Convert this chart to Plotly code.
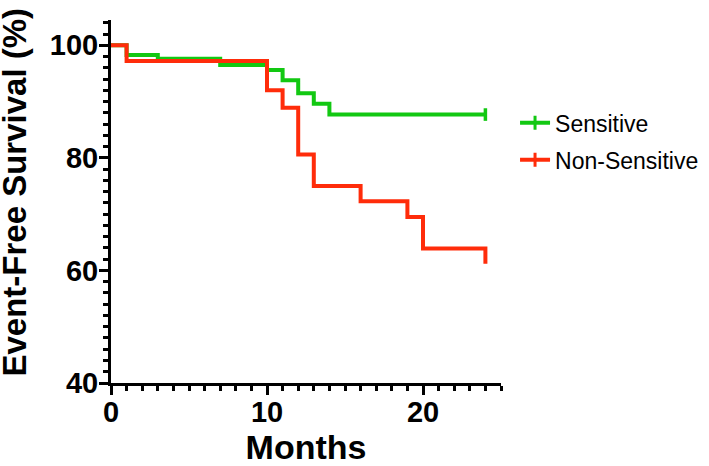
import plotly.graph_objects as go

# Kaplan-Meier step data (months, survival %)
sens_t = [0, 1, 3, 7, 10, 11, 12, 13, 14, 24]
sens_s = [100, 98.3, 97.6, 96.5, 95.6, 93.8, 91.5, 89.6, 87.7, 87.7]
nons_t = [0, 1, 10, 11, 12, 13, 16, 19, 20, 24]
nons_s = [100, 97.2, 92.0, 88.9, 80.6, 75.0, 72.3, 69.5, 63.9, 61.2]
sens_censor_t = [24]
sens_censor_s = [87.7]

GREEN = "#12C812"
RED = "#FF2C0A"
FONT = "Liberation Sans"

fig = go.Figure()

fig.add_trace(go.Scatter(x=sens_t, y=sens_s, mode="lines", line=dict(color=GREEN, width=4, shape="hv"),
                         showlegend=False, hoverinfo="skip"))
fig.add_trace(go.Scatter(x=sens_censor_t, y=sens_censor_s, mode="markers",
                         marker=dict(symbol="line-ns", size=9, line=dict(color=GREEN, width=3.5)),
                         showlegend=False, cliponaxis=False))
fig.add_trace(go.Scatter(x=nons_t, y=nons_s, mode="lines", line=dict(color=RED, width=4, shape="hv"),
                         showlegend=False, hoverinfo="skip"))

# legend entries
fig.add_trace(go.Scatter(x=[None], y=[None], mode="lines+markers", name="Sensitive",
                         line=dict(color=GREEN, width=4),
                         marker=dict(symbol="line-ns", size=10, line=dict(color=GREEN, width=3)),
                         legend="legend"))
fig.add_trace(go.Scatter(x=[None], y=[None], mode="lines+markers", name="Non-Sensitive",
                         line=dict(color=RED, width=4),
                         marker=dict(symbol="line-ns", size=10, line=dict(color=RED, width=3)),
                         legend="legend2"))

axis_common = dict(showline=True, linecolor="black", linewidth=3, ticks="outside",
                   tickcolor="black", tickwidth=3, ticklen=9, showgrid=False, zeroline=False,
                   automargin=False,
                   tickfont=dict(family=FONT, size=29, color="black", weight="bold"))

fig.update_xaxes(range=[0, 25], tickmode="linear", tick0=0, dtick=10, **axis_common,
                 ticklabelstandoff=-8,
                 minor=dict(tickmode="linear", tick0=0, dtick=1, ticks="outside", ticklen=5,
                            tickwidth=2.5, tickcolor="black"),
                 title=dict(text="Months", font=dict(family=FONT, size=34, color="black", weight="bold"),
                            standoff=21))
fig.update_yaxes(range=[40, 104.5], tickmode="linear", tick0=40, dtick=20, **axis_common,
                 ticklabelstandoff=-5,
                 minor=dict(tickmode="linear", tick0=40, dtick=2, ticks="outside", ticklen=5,
                            tickwidth=2.5, tickcolor="black"))

fig.add_annotation(text="Event-Free Survival (%)", xref="paper", yref="paper",
                   x=-0.2474, y=0.526, xanchor="center", yanchor="middle", textangle=-90,
                   showarrow=False, font=dict(family=FONT, size=33, color="black", weight="bold"))

leg_common = dict(font=dict(family=FONT, size=23, color="black"), bgcolor="rgba(0,0,0,0)",
                  xanchor="left", yanchor="middle")
fig.update_layout(
    width=709, height=466,
    margin=dict(l=111, r=208, t=20, b=83, autoexpand=False),
    plot_bgcolor="white", paper_bgcolor="white",
    legend=dict(x=1.036, y=0.717, **leg_common),
    legend2=dict(x=1.036, y=0.615, **leg_common),
)

fig.write_html("out.html", config={"displayModeBar": False},
               post_script="document.body.style.margin='0';")
